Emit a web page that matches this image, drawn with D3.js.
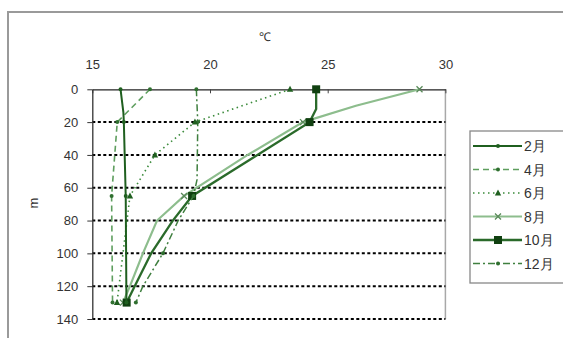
<!DOCTYPE html>
<html><head><meta charset="utf-8">
<script src="https://cdn.jsdelivr.net/npm/d3@7"></script>
<style>body{margin:0;background:#fff;} text{font-family:"Liberation Sans",Arial,sans-serif;}</style>
</head><body><svg id="c" width="563" height="338"></svg>
<script>
const xTicks = [15, 20, 25, 30];
const yTicks = [0, 20, 40, 60, 80, 100, 120, 140];
const seriesNames = ["2月", "4月", "6月", "8月", "10月", "12月"];

const depthFeb = [0, 14, 20, 65, 130];
const tempFeb  = [16.2, 16.32, 16.34, 16.42, 16.45];
const markFeb  = [0, 20, 65, 130];

const depthApr = [0, 20, 65, 130];
const tempApr  = [17.45, 16.06, 15.82, 15.86];
const markApr  = [0, 20, 65, 130];

const depthJun = [0, 20, 40, 65, 130];
const tempJun  = [23.4, 19.36, 17.66, 16.6, 16.05];
const markJun  = [0, 20, 40, 65, 130];

const depthAug = [0, 10, 20, 40, 65, 80, 100, 120, 130];
const tempAug  = [28.9, 26.2, 23.95, 21.6, 18.9, 17.75, 17.15, 16.6, 16.3];
const markAug  = [0, 20, 65, 130];

const depthOct = [0, 12, 20, 65, 80, 100, 120, 130];
const tempOct  = [24.51, 24.51, 24.23, 19.24, 18.42, 17.5, 16.8, 16.46];
const markOct  = [0, 20, 65, 130];

const depthDec = [0, 20, 55, 65, 80, 100, 120, 130];
const tempDec  = [19.42, 19.48, 19.45, 19.3, 18.65, 18.0, 17.15, 16.85];
const markDec  = [0, 20, 65, 100, 130];

const svg = d3.select("#c");
const x = d3.scaleLinear().domain([15, 30]).range([92.3, 445.4]);
const y = d3.scaleLinear().domain([0, 140]).range([89.3, 319]);

// outer frame
svg.append("rect").attr("x", 8).attr("y", 12).attr("width", 600).attr("height", 400)
  .attr("fill", "none").attr("stroke", "#9a9a9a").attr("stroke-width", 2);

// plot right border
svg.append("line").attr("x1", x(30)).attr("x2", x(30)).attr("y1", y(0)).attr("y2", y(140))
  .attr("stroke", "#a8a8a8").attr("stroke-width", 1.5);

// gridlines
svg.append("g").selectAll("line").data(yTicks.filter(d => d > 0)).join("line")
  .attr("x1", x(15)).attr("x2", x(30)).attr("y1", d => y(d)).attr("y2", d => y(d))
  .attr("stroke", "#000").attr("stroke-width", 2).attr("stroke-dasharray", "3,2.5");

// axes
const gx = svg.append("g").attr("transform", `translate(0,${y(0)})`)
  .call(d3.axisTop(x).tickValues(xTicks).tickSizeInner(-4).tickSizeOuter(0).tickPadding(20));
gx.select(".domain").attr("stroke", "#222").attr("stroke-width", 1.3);
gx.selectAll(".tick line").attr("stroke", "#444");
gx.selectAll("text").attr("font-size", 13).attr("fill", "#333");

const gy = svg.append("g").attr("transform", `translate(${x(15)},0)`)
  .call(d3.axisLeft(y).tickValues(yTicks).tickSizeInner(5).tickSizeOuter(0).tickPadding(9));
gy.select(".domain").attr("stroke", "#333").attr("stroke-width", 1.3);
gy.selectAll(".tick line").attr("stroke", "#333");
gy.selectAll("text").attr("font-size", 13).attr("fill", "#333");

svg.append("text").attr("x", 265).attr("y", 41).attr("text-anchor", "middle")
  .attr("font-size", 12).attr("fill", "#333").text("℃");
svg.append("text").attr("transform", "translate(38,203) rotate(-90)").attr("text-anchor", "middle")
  .attr("font-size", 13).attr("fill", "#333").text("m");

const styles = [
  {color: "#1f5f1f", w: 2, dash: null, mk: "dot", mc: "#1f5f1f"},
  {color: "#5e9e5e", w: 1.6, dash: "6,4", mk: "dot", mc: "#2f6f2f"},
  {color: "#3a8a3a", w: 1.6, dash: "1.5,3.5", mk: "tri", mc: "#1f5f1f"},
  {color: "#8dbd8d", w: 2.2, dash: null, mk: "x", mc: "#5a8a5a"},
  {color: "#2a6a2a", w: 2.3, dash: null, mk: "sq", mc: "#104010"},
  {color: "#3f7f3f", w: 1.5, dash: "7,3,2,3", mk: "dot", mc: "#2f6f2f"}
];
const series = [
  {depth: depthFeb, temp: tempFeb, mark: markFeb},
  {depth: depthApr, temp: tempApr, mark: markApr},
  {depth: depthJun, temp: tempJun, mark: markJun},
  {depth: depthAug, temp: tempAug, mark: markAug},
  {depth: depthOct, temp: tempOct, mark: markOct},
  {depth: depthDec, temp: tempDec, mark: markDec}
];

function drawMarker(g, type, cx, cy, col) {
  if (type === "dot") g.append("circle").attr("cx", cx).attr("cy", cy).attr("r", 2).attr("fill", col);
  else if (type === "tri") g.append("path").attr("d", `M${cx},${cy-3.5}L${cx+3.2},${cy+2.5}L${cx-3.2},${cy+2.5}Z`).attr("fill", col);
  else if (type === "x") g.append("path").attr("d", `M${cx-3},${cy-3}L${cx+3},${cy+3}M${cx-3},${cy+3}L${cx+3},${cy-3}`).attr("stroke", col).attr("stroke-width", 1.3);
  else if (type === "sq") g.append("rect").attr("x", cx-4).attr("y", cy-4).attr("width", 8).attr("height", 8).attr("fill", col);
}

const line = d3.line().x(d => x(d[1])).y(d => y(d[0]));
const order = [3, 4, 5, 2, 1, 0];
order.forEach(i => {
  const s = series[i], st = styles[i];
  const pts = s.depth.map((d, j) => [d, s.temp[j]]);
  const g = svg.append("g");
  g.append("path").attr("d", line(pts)).attr("fill", "none").attr("stroke", st.color)
    .attr("stroke-width", st.w).attr("stroke-dasharray", st.dash);
  pts.filter(p => s.mark.includes(p[0])).forEach(p => drawMarker(g, st.mk, x(p[1]), y(p[0]), st.mc));
});

// legend
const lg = svg.append("g");
lg.append("rect").attr("x", 470).attr("y", 131).attr("width", 120).attr("height", 152)
  .attr("fill", "#fff").attr("stroke", "#888").attr("stroke-width", 1.3);
seriesNames.forEach((n, i) => {
  const ly = 146 + i * 23.5, st = styles[i];
  lg.append("line").attr("x1", 473).attr("x2", 522).attr("y1", ly).attr("y2", ly)
    .attr("stroke", st.color).attr("stroke-width", st.w).attr("stroke-dasharray", st.dash);
  drawMarker(lg, st.mk, 498, ly, st.mc);
  lg.append("text").attr("x", 524).attr("y", ly + 5).attr("font-size", 14).attr("fill", "#333").text(n);
});
</script></body></html>
